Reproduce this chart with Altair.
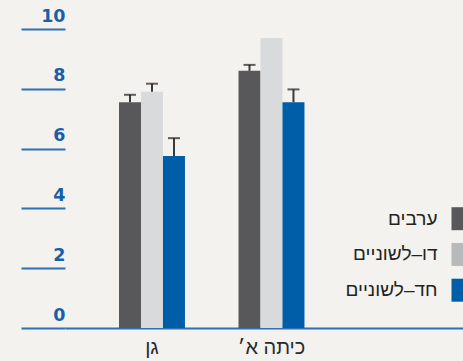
import altair as alt
import pandas as pd

# Mean scores by school stage and language group
grades = ["גן", "כיתה א׳"]
series = ["ערבים", "דו–לשוניים", "חד–לשוניים"]
arab = [7.55, 8.6]
bilingual = [7.9, 9.7]
monolingual = [5.75, 7.55]
# upper error (one-sided); None where no bar is drawn
arab_err = [0.25, 0.2]
bilingual_err = [0.27, None]
monolingual_err = [0.6, 0.43]

bar_colors = ["#58585a", "#d9dadc", "#005ea8"]
key_colors = ["#58585a", "#b8b9bb", "#005ea8"]

BLUE = "#1a5ea8"
BG = "#f3f2ee"

rows = []
for s, vals, errs in [
    (series[0], arab, arab_err),
    (series[1], bilingual, bilingual_err),
    (series[2], monolingual, monolingual_err),
]:
    for g, v, e in zip(grades, vals, errs):
        rows.append({"grade": g, "series": s, "value": v,
                     "err": e, "upper": (v + e) if e is not None else None})
df = pd.DataFrame(rows)
err_df = df.dropna(subset=["err"])

y_scale = alt.Scale(domain=[0, 10], nice=False, zero=True)
# groups sit left of centre, leaving room for the key on the right
x_scale = alt.Scale(paddingInner=0.448, paddingOuter=0.8893, align=0.2541)
x_enc = alt.X("grade:N", sort=grades, title=None, scale=x_scale,
              axis=alt.Axis(labelAngle=0, ticks=False, domain=True,
                            domainColor="#2f6fb3", domainWidth=2,
                            labelFont="Liberation Sans", labelFontSize=20,
                            labelColor="#2a2a2a", labelPadding=9))
xoff_enc = alt.XOffset("series:N", sort=series,
                       scale=alt.Scale(paddingInner=0, paddingOuter=0))

bars = alt.Chart(df).mark_bar(stroke=None).encode(
    x=x_enc,
    xOffset=xoff_enc,
    y=alt.Y("value:Q", scale=y_scale, title=None,
            axis=alt.Axis(values=[0, 2, 4, 6, 8, 10], grid=False, domain=False,
                          ticks=True, tickSize=44, tickWidth=2, tickColor="#2f6fb3",
                          labelFont="DejaVu Sans", labelFontWeight="bold",
                          labelFontSize=17.5, labelColor=BLUE,
                          labelAlign="right", labelBaseline="alphabetic",
                          labelPadding=-44, labelOffset=-8)),
    color=alt.Color("series:N", sort=series,
                    scale=alt.Scale(domain=series, range=bar_colors), legend=None),
)

stems = alt.Chart(err_df).mark_rule(color="#3a3a3a", strokeWidth=2).encode(
    x=alt.X("grade:N", sort=grades),
    xOffset=xoff_enc,
    y=alt.Y("value:Q", scale=y_scale),
    y2="upper:Q",
)

caps = alt.Chart(err_df).mark_tick(color="#1e1e1e", size=12, thickness=2).encode(
    x=alt.X("grade:N", sort=grades),
    xOffset=xoff_enc,
    y=alt.Y("upper:Q", scale=y_scale),
)

main = alt.layer(bars, stems, caps)

# Key on the right: label to the left of each swatch
key_df = pd.DataFrame({"series": series, "swatch": key_colors})
key_y = alt.Y("series:N", sort=series, axis=None,
              scale=alt.Scale(range=[189.7, 261.2], padding=0))

swatches = alt.Chart(key_df).mark_square(size=529, opacity=1).encode(
    x=alt.value(398),
    y=key_y,
    color=alt.Color("swatch:N", scale=None),
)
key_text = alt.Chart(key_df).mark_text(
    align="right", baseline="middle", font="Liberation Sans",
    fontSize=19, color="#222222",
).encode(
    x=alt.value(372.5),
    y=key_y,
    text="series:N",
)
key = alt.layer(swatches, key_text)

chart = alt.layer(main, key).resolve_scale(y="independent").properties(
    width=398,
    height=299,
    padding={"left": 65, "top": 29, "right": 0, "bottom": 33},
    autosize=alt.AutoSizeParams(type="none"),
    background=BG,
).configure_view(stroke=None)

chart.save("out.html", embed_options={"renderer": "svg", "actions": False})
